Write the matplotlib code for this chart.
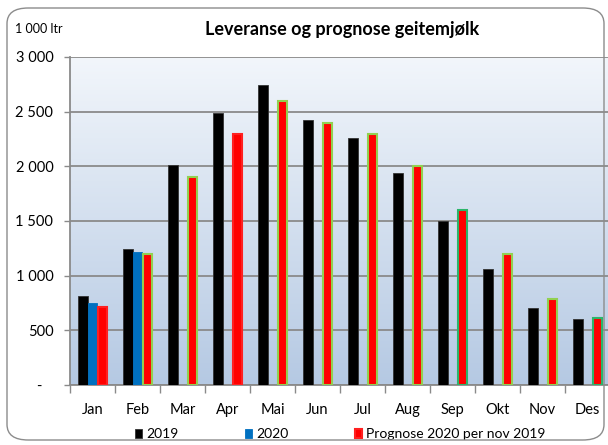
import numpy as np
import matplotlib.pyplot as plt
from matplotlib.patches import FancyBboxPatch
from matplotlib.colors import LinearSegmentedColormap
from matplotlib.ticker import FuncFormatter, MultipleLocator

plt.rcParams['font.family'] = ['Lato', 'DejaVu Sans']

# data (1000 liter)
maneder = ['Jan', 'Feb', 'Mar', 'Apr', 'Mai', 'Jun', 'Jul', 'Aug', 'Sep', 'Okt', 'Nov', 'Des']
lev_2019 = [810, 1240, 2010, 2490, 2740, 2420, 2260, 1940, 1500, 1060, 700, 600]
lev_2020 = [750, 1220, np.nan, np.nan, np.nan, np.nan, np.nan, np.nan, np.nan, np.nan, np.nan, np.nan]
prognose = [710, 1200, 1900, 2300, 2600, 2400, 2300, 2000, 1600, 1200, 790, 610]
kant_prognose = ['#ff2020', '#92d050', '#92d050', '#ff2020', '#92d050', '#92d050',
                 '#92d050', '#92d050', '#2cb56a', '#92d050', '#92d050', '#2cb56a']

fig = plt.figure(figsize=(6.08, 4.45), dpi=100)

# ramme rundt hele figuren
ramme = FancyBboxPatch((7 / 608, 5 / 445), 597 / 608, 432 / 445,
                       boxstyle='round,pad=0,rounding_size=0.035',
                       transform=fig.transFigure, fill=False,
                       edgecolor='#8c8c8c', linewidth=1.0)
fig.patches.append(ramme)

ax = fig.add_axes([70 / 608, 60 / 445, 540 / 608, 328 / 445])

x = np.arange(len(maneder))
b = 0.222

# bakgrunn med gradient (lys oppe, blaaere nede)
grad = np.linspace(0, 1, 256).reshape(-1, 1)
cmap = LinearSegmentedColormap.from_list('bg', ['#f2f6fb', '#b5c9e3'])
ax.imshow(grad, aspect='auto', cmap=cmap, extent=[-0.5, 11.5, 0, 3000],
          zorder=0, origin='upper')

ax.bar(x - b, lev_2019, b, color='black', edgecolor='#333333', linewidth=0.6,
       label='2019', zorder=3)
ax.bar(x, lev_2020, b, color='#0070c0', edgecolor='#0070c0', linewidth=0.6,
       label='2020', zorder=3)
ax.bar(x + b, prognose, b * 0.92, color='#ff0000', edgecolor=kant_prognose,
       linewidth=1.5, label='Prognose 2020 per nov 2019', zorder=3)

ax.set_xlim(-0.5, 11.5)
ax.set_ylim(0, 3000)
ax.yaxis.set_major_locator(MultipleLocator(500))
ax.yaxis.set_major_formatter(FuncFormatter(
    lambda v, p: '-   ' if v == 0 else f'{int(v):,}'.replace(',', ' ')))
ax.grid(axis='y', color='#8a8a8a', linewidth=1.3, zorder=1)
ax.set_axisbelow(True)

ax.set_xticks(x)
ax.set_xticklabels(maneder)
ax.set_xticks(np.arange(-0.5, 12, 1), minor=True)
ax.tick_params(axis='x', which='major', length=0, pad=13, labelsize=10.5)
ax.tick_params(axis='x', which='minor', length=6, color='#8a8a8a', width=1)
ax.tick_params(axis='y', length=4, color='#8a8a8a', width=1, labelsize=10.5, pad=8)

for s in ['top', 'right']:
    ax.spines[s].set_visible(False)
for s in ['left', 'bottom']:
    ax.spines[s].set_color('#8a8a8a')
    ax.spines[s].set_linewidth(1.3)

fig.text(15 / 608, 1 - 29 / 445, '1 000 ltr', fontsize=9, va='center', ha='left')
fig.text(342 / 608, 1 - 30 / 445, 'Leveranse og prognose geitemjølk',
         fontsize=13, fontweight='bold', ha='center', va='center')

ax.legend(loc='center', bbox_to_anchor=(340 / 608, 1 - 434 / 445),
          bbox_transform=fig.transFigure, ncol=3, frameon=False,
          fontsize=10, handlelength=0.5, handleheight=0.6, handletextpad=0.3,
          columnspacing=4.8)

fig.savefig('out.png', dpi=100)
